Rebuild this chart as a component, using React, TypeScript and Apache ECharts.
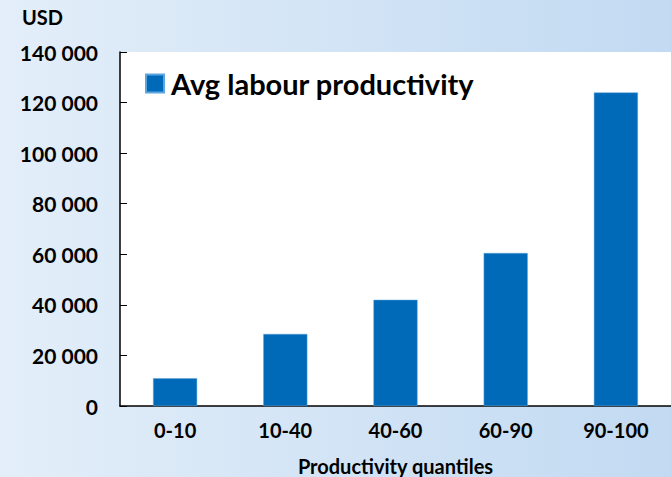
import React, { useEffect, useRef } from "react";
import * as echarts from "echarts";

const categories = ["0-10", "10-40", "40-60", "60-90", "90-100"];
const productivity = [11000, 28500, 42000, 60500, 124000];
const seriesName = "Avg labour productivity";
const yTicks = [0, 20000, 40000, 60000, 80000, 100000, 120000, 140000];

const fmt = (v: number) => (v === 0 ? "0" : `${Math.floor(v / 1000)} 000`);

export default function App() {
  const ref = useRef<HTMLDivElement>(null);
  useEffect(() => {
    const chart = echarts.init(ref.current!, null, { renderer: "svg" });
    const font = "Lato";
    chart.setOption({
      animation: false,
      backgroundColor: new echarts.graphic.LinearGradient(0, 0, 1, 0, [
        { offset: 0, color: "#E3EEF9" },
        { offset: 1, color: "#C2DAF2" },
      ]),
      textStyle: { fontFamily: font },
      grid: {
        left: 120,
        top: 52,
        right: 0,
        bottom: 71,
        show: true,
        backgroundColor: "#ffffff",
        borderWidth: 0,
        outerBoundsMode: "none",
        containLabel: false,
      },
      graphic: [
        {
          type: "text",
          left: 22,
          top: 7,
          style: {
            text: "USD",
            fontSize: 20,
            fontWeight: "bold",
            fontFamily: font,
            fill: "#000",
          },
        },
      ],
      legend: {
        data: [seriesName],
        left: 140,
        top: 64,
        icon: "rect",
        itemWidth: 18,
        itemHeight: 18,
        itemGap: 10,
        textStyle: { fontSize: 29, fontWeight: "bold", color: "#000", fontFamily: font, padding: [0, 0, 0, 2] },
      },
      xAxis: {
        type: "category",
        data: categories,
        name: "Productivity quantiles",
        nameLocation: "middle",
        nameGap: 50,
        nameTextStyle: { fontSize: 20, fontWeight: "bold", color: "#000", fontFamily: font },
        axisLine: { lineStyle: { color: "#000", width: 1.5 } },
        axisTick: { inside: true, length: 7, lineStyle: { color: "#000" } },
        axisLabel: { fontSize: 20, fontWeight: "bold", color: "#000", margin: 14, fontFamily: font },
      },
      yAxis: {
        type: "value",
        min: 0,
        max: 140000,
        interval: 20000,
        axisLine: { show: true, lineStyle: { color: "#000", width: 1.5 } },
        axisTick: { show: true, inside: true, length: 7, lineStyle: { color: "#000" } },
        splitLine: { show: false },
        axisLabel: {
          fontSize: 21,
          fontWeight: "bold",
          color: "#000",
          margin: 22,
          fontFamily: font,
          formatter: (v: number) => (yTicks.includes(v) ? fmt(v) : ""),
        },
      },
      series: [
        {
          name: seriesName,
          type: "bar",
          data: productivity,
          barWidth: "40%",
          itemStyle: { color: "#006AB8", borderColor: "#5DA5DF", borderWidth: 0.5 },
        },
      ],
    });
    return () => chart.dispose();
  }, []);
  return (
    <div
      ref={ref}
      style={{ position: "fixed", left: 0, top: 0, width: 671, height: 477 }}
    />
  );
}
